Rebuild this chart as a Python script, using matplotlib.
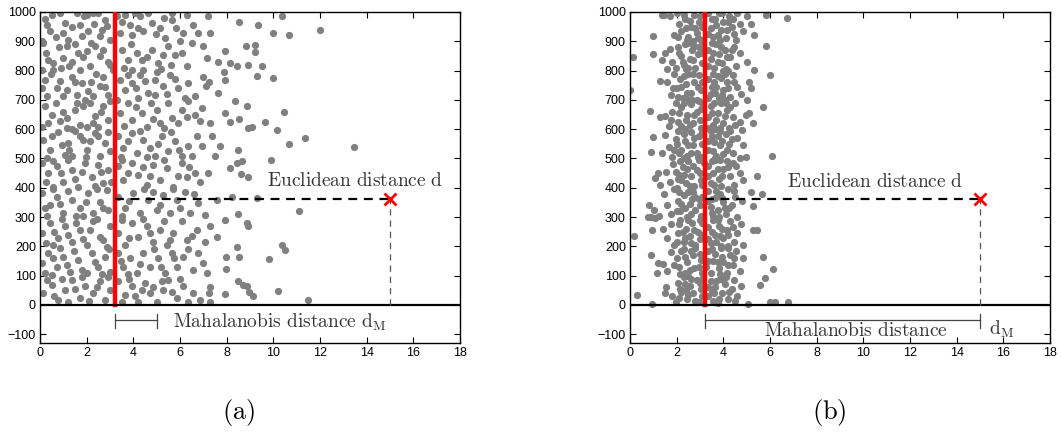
import numpy as np
import matplotlib.pyplot as plt

plt.rcParams['mathtext.fontset'] = 'cm'
plt.rcParams['font.family'] = ['Liberation Sans', 'DejaVu Sans']

# scatter points, panel (a)
pts_a = [
    # y 900-1000
    (0.5, 991), (0.86, 998), (1.57, 995), (2.0, 991), (2.26, 998), (2.5, 995), (2.79, 974), (0.29, 957),
    (0.43, 934), (1.07, 962), (1.71, 957), (2.07, 934), (2.57, 917), (2.86, 951), (3.64, 991), (4.07, 995),
    (4.29, 985), (4.64, 997), (4.79, 962), (5.14, 945), (5.64, 995), (5.64, 974), (6.11, 928), (6.57, 957),
    (7.21, 988), (6.79, 928), (7.29, 928), (3.43, 928), (3.86, 957), (4.43, 934), (5.36, 911), (0.07, 900),
    (1.21, 905), (1.79, 917), (8.53, 965), (9.36, 957), (10.36, 985), (10.69, 922), (10.0, 928), (12.0, 940),
    (0.2, 975), (0.7, 915), (1.35, 948), (1.9, 985), (2.3, 960), (2.65, 940), (3.0, 905), (3.5, 965),
    (3.95, 920), (4.2, 945), (4.95, 925), (5.3, 980), (5.85, 945), (6.3, 990), (1.0, 930), (3.3, 985),
    # y 800-900
    (0.14, 894), (0.36, 837), (0.57, 826), (1.0, 843), (1.36, 831), (1.64, 860), (1.14, 883), (2.0, 866),
    (2.14, 814), (2.57, 849), (2.36, 883), (2.93, 831), (0.07, 801), (0.57, 801), (1.71, 801), (3.5, 871),
    (3.79, 837), (4.14, 860), (3.93, 801), (4.43, 801), (4.79, 871), (5.07, 826), (5.5, 883), (5.79, 854),
    (6.0, 900), (6.29, 814), (7.0, 883), (7.14, 843), (7.93, 866), (7.64, 831), (8.14, 826), (8.43, 814),
    (8.83, 883), (9.21, 888), (9.21, 862), (8.93, 820), (9.5, 814), (6.5, 894), (5.29, 854), (3.14, 801),
    (0.25, 860), (0.8, 880), (1.25, 815), (1.5, 890), (1.85, 845), (2.2, 895), (2.7, 870), (3.0, 820),
    (3.6, 810), (3.9, 890), (4.35, 835), (4.6, 845), (5.2, 805), (5.6, 820), (6.1, 860), (0.9, 810),
    # y 700-800
    (0.21, 769), (0.71, 740), (1.0, 712), (1.36, 778), (1.79, 757), (2.07, 729), (1.93, 701), (2.29, 712),
    (2.57, 746), (2.71, 778), (2.93, 718), (0.29, 712), (1.57, 718), (3.43, 769), (3.64, 735), (3.93, 757),
    (4.29, 786), (4.64, 723), (4.93, 769), (5.29, 746), (5.57, 786), (5.93, 740), (6.36, 757), (6.64, 712),
    (7.0, 778), (7.24, 761), (7.1, 746), (7.64, 723), (7.9, 794), (7.93, 769), (8.36, 695), (9.29, 780),
    (10.0, 774), (4.93, 718), (4.21, 706),
    (0.1, 740), (0.45, 790), (0.85, 765), (1.15, 735), (1.5, 760), (2.4, 790), (2.8, 745), (3.3, 700),
    (3.75, 785), (4.1, 740), (4.5, 765), (5.0, 795), (5.45, 720), (5.8, 770), (6.2, 705), (2.2, 760),
    # y 600-700
    (0.21, 678), (0.5, 649), (0.86, 627), (1.14, 638), (1.5, 666), (1.71, 615), (2.14, 689), (2.36, 644),
    (2.5, 609), (2.71, 678), (2.93, 632), (0.07, 609), (1.14, 604), (2.0, 609), (3.43, 655), (3.79, 689),
    (3.93, 632), (4.36, 655), (4.57, 609), (5.0, 666), (5.14, 621), (5.5, 689), (5.64, 638), (6.07, 666),
    (6.36, 695), (6.64, 649), (6.86, 627), (7.29, 621), (6.93, 672), (7.93, 655), (8.14, 626), (8.53, 634),
    (8.89, 680), (8.93, 604), (9.1, 606), (9.64, 626), (10.47, 657), (10.14, 598),
    (0.35, 620), (0.7, 690), (1.0, 660), (1.35, 600), (1.85, 680), (2.25, 620), (2.6, 660), (3.0, 695),
    (3.6, 610), (4.1, 675), (4.75, 690), (4.85, 635), (5.3, 605), (5.9, 620), (6.3, 640), (1.6, 690),
    # y 500-600
    (0.14, 564), (0.43, 530), (0.79, 592), (1.21, 552), (1.36, 507), (1.71, 575), (2.0, 530), (2.36, 587),
    (2.57, 507), (2.79, 552), (3.0, 524), (0.29, 501), (1.07, 513), (1.86, 564), (3.36, 575), (3.57, 535),
    (3.93, 587), (4.14, 518), (4.43, 564), (4.71, 535), (4.93, 507), (5.21, 575), (5.5, 524), (5.79, 558),
    (6.07, 507), (6.36, 541), (6.71, 575), (6.93, 541), (7.36, 575), (7.71, 541), (7.5, 507), (8.47, 530),
    (8.43, 486), (8.64, 490), (9.89, 495), (10.69, 549), (11.36, 570), (13.47, 539),
    (0.5, 575), (0.95, 545), (1.5, 595), (1.95, 505), (2.15, 560), (2.5, 575), (2.9, 590), (3.45, 505),
    (3.75, 560), (4.3, 595), (4.6, 505), (5.05, 550), (5.6, 590), (5.95, 530), (6.5, 510), (1.25, 530),
    # y 400-500
    (0.07, 484), (0.36, 450), (0.71, 473), (1.0, 421), (1.36, 461), (1.64, 404), (1.93, 484), (2.21, 438),
    (2.5, 478), (2.71, 416), (2.93, 461), (0.57, 404), (3.36, 473), (3.57, 427), (3.93, 484), (4.21, 444),
    (4.57, 410), (4.86, 478), (5.14, 427), (5.43, 467), (5.71, 404), (6.07, 484), (6.29, 438), (6.64, 450),
    (6.86, 421), (7.21, 450), (8.61, 448), (8.93, 436), (8.14, 467),
    (0.25, 420), (0.55, 490), (0.9, 450), (1.2, 495), (1.5, 430), (1.8, 455), (2.35, 405), (2.6, 455),
    (3.05, 420), (3.5, 495), (3.75, 450), (4.4, 470), (4.7, 440), (5.3, 495), (5.9, 440), (6.4, 470),
    # y 300-400
    (0.07, 382), (0.43, 342), (0.71, 370), (1.0, 313), (1.36, 359), (1.71, 330), (2.07, 382), (2.29, 313),
    (2.57, 353), (2.86, 393), (2.93, 325), (0.29, 302), (1.86, 302), (3.36, 370), (3.64, 330), (4.0, 382),
    (4.29, 313), (4.64, 359), (5.0, 325), (5.29, 376), (5.57, 313), (5.86, 359), (6.21, 387), (6.43, 313),
    (6.79, 347), (7.07, 307), (7.57, 359), (8.21, 370), (9.29, 364), (8.47, 311), (11.1, 322),
    (0.2, 330), (0.55, 395), (0.85, 345), (1.2, 390), (1.55, 305), (1.95, 350), (2.45, 395), (2.7, 330),
    (3.5, 305), (3.8, 355), (4.45, 395), (4.85, 385), (5.15, 340), (5.7, 395), (6.0, 330), (6.6, 380),
    # y 200-300
    (0.07, 245), (0.43, 279), (0.79, 228), (1.07, 268), (1.36, 216), (1.71, 256), (2.0, 205), (2.29, 285),
    (2.57, 233), (2.86, 199), (3.0, 268), (0.57, 205), (3.36, 245), (3.64, 205), (3.93, 279), (4.21, 233),
    (4.57, 268), (4.86, 216), (5.14, 256), (5.43, 205), (5.71, 245), (6.07, 285), (6.29, 222), (6.71, 256),
    (7.07, 216), (7.29, 268), (7.93, 290), (8.86, 279), (8.9, 271), (7.57, 231), (8.43, 199), (10.36, 205),
    (10.5, 186),
    (0.25, 210), (0.6, 250), (0.95, 295), (1.2, 240), (1.55, 280), (1.85, 225), (2.15, 255), (2.45, 295),
    (2.7, 220), (3.5, 290), (3.8, 230), (4.4, 295), (4.7, 245), (5.3, 285), (5.55, 220), (6.5, 235),
    # y 100-200
    (0.07, 142), (0.36, 177), (0.71, 131), (1.0, 165), (1.29, 114), (1.64, 154), (2.0, 108), (2.21, 177),
    (2.5, 131), (2.79, 165), (3.0, 114), (0.5, 103), (3.36, 177), (3.57, 131), (3.86, 159), (4.14, 108),
    (4.43, 177), (4.71, 131), (5.07, 159), (5.36, 108), (5.64, 177), (5.86, 131), (6.14, 165), (6.57, 120),
    (7.0, 142), (7.14, 108), (7.96, 165), (8.53, 162), (9.81, 156), (7.96, 122), (6.79, 177),
    (0.2, 110), (0.55, 160), (0.85, 195), (1.15, 135), (1.45, 185), (1.8, 120), (2.35, 145), (2.65, 105),
    (2.95, 190), (3.45, 150), (3.75, 105), (4.3, 140), (4.9, 190), (5.2, 130), (5.75, 160), (6.35, 190),
    # y 0-100
    (0.14, 40), (0.5, 68), (0.79, 17), (1.07, 51), (1.36, 85), (1.71, 23), (1.93, 63), (2.29, 40),
    (2.57, 80), (2.79, 17), (3.0, 51), (3.36, 80), (3.64, 34), (3.93, 63), (4.21, 11), (4.5, 74),
    (4.71, 40), (5.0, 11), (5.29, 51), (5.5, 85), (5.86, 23), (6.14, 63), (6.36, 11), (6.57, 40),
    (6.86, 17), (7.29, 60), (7.26, 40), (7.29, 11), (7.93, 38), (8.5, 80), (8.69, 68), (8.86, 65),
    (8.96, 43), (9.14, 32), (10.19, 49), (11.5, 16), (5.21, 80),
    (0.3, 85), (0.6, 30), (0.95, 90), (1.2, 10), (1.5, 55), (1.8, 95), (2.1, 15), (2.45, 60),
    (2.9, 95), (3.5, 10), (3.8, 90), (4.05, 30), (4.35, 50), (4.85, 60), (5.65, 45), (6.0, 90),
]

# scatter points, panel (b)
pts_b = [
    # y 900-1000
    (1.45, 990), (1.7, 985), (2.0, 995), (2.1, 960), (2.2, 935), (2.35, 975), (2.5, 915), (2.6, 950),
    (2.75, 990), (2.85, 930), (2.95, 965), (3.05, 905), (3.35, 995), (3.45, 945), (3.55, 915), (3.65, 975),
    (3.8, 995), (3.9, 940), (4.0, 965), (4.1, 910), (4.25, 985), (4.35, 950), (4.45, 925), (4.6, 995),
    (4.7, 960), (4.85, 935), (5.0, 985), (5.2, 960), (5.3, 920), (2.45, 905), (3.75, 920), (4.55, 905),
    (1.9, 920), (2.7, 900), (3.0, 985),
    (2.05, 915), (2.3, 990), (2.55, 970), (2.8, 945), (3.35, 925), (3.5, 975), (3.7, 955), (3.95, 995),
    (4.15, 940), (4.4, 975), (2.4, 945), (3.1, 950), (3.85, 905), (2.9, 910), (4.2, 965),
    # y 800-900
    (1.5, 860), (1.7, 875), (1.8, 830), (1.95, 810), (2.05, 880), (2.2, 850), (2.3, 820), (2.45, 895),
    (2.55, 840), (2.65, 870), (2.8, 810), (2.9, 855), (3.05, 885), (3.1, 825), (3.35, 870), (3.45, 840),
    (3.6, 810), (3.7, 890), (3.8, 855), (3.95, 825), (4.05, 870), (4.2, 800), (4.3, 845), (4.45, 880),
    (4.55, 815), (4.7, 860), (5.0, 830), (1.6, 805), (2.4, 805), (3.5, 895), (4.1, 805), (2.75, 885),
    (2.1, 860), (2.35, 890), (2.5, 810), (2.7, 835), (2.95, 880), (3.35, 815), (3.55, 860), (3.75, 830),
    (3.9, 880), (4.15, 845), (4.35, 870), (2.25, 830), (3.1, 860), (4.0, 800), (2.6, 895),
    # y 700-800
    (1.6, 760), (1.75, 715), (1.9, 790), (2.0, 740), (2.15, 770), (2.25, 705), (2.4, 755), (2.5, 790),
    (2.6, 725), (2.75, 760), (2.85, 700), (2.95, 785), (3.05, 735), (3.35, 770), (3.45, 720), (3.55, 790),
    (3.7, 745), (3.8, 705), (3.9, 775), (4.0, 735), (4.15, 760), (4.3, 710), (4.4, 785), (4.6, 745),
    (4.75, 720), (5.1, 760), (5.2, 740), (1.85, 740), (2.55, 700), (3.6, 760), (4.05, 700), (2.3, 780),
    (2.05, 710), (2.2, 745), (2.45, 725), (2.7, 790), (2.9, 745), (3.35, 705), (3.5, 745), (3.75, 780),
    (3.95, 715), (4.2, 740), (4.45, 760), (2.35, 705), (3.1, 760), (3.65, 725), (4.05, 790),
    # y 600-700
    (1.3, 640), (1.5, 645), (1.65, 610), (1.8, 660), (1.95, 690), (2.05, 625), (2.2, 675), (2.35, 600),
    (2.45, 650), (2.6, 685), (2.7, 620), (2.85, 660), (2.95, 695), (3.05, 605), (3.35, 640), (3.45, 680),
    (3.55, 615), (3.65, 600), (3.75, 655), (3.9, 690), (4.0, 620), (4.15, 665), (4.25, 605), (4.4, 640),
    (4.5, 690), (4.7, 625), (4.95, 650), (2.4, 630), (3.6, 690), (1.75, 630), (3.05, 670), (4.1, 690),
    (2.1, 655), (2.3, 690), (2.55, 615), (2.75, 650), (3.0, 630), (3.35, 605), (3.5, 655), (3.7, 630),
    (3.85, 605), (4.05, 645), (4.3, 675), (2.2, 610), (3.1, 690), (2.65, 700), (4.5, 615),
    # y 500-600
    (1.35, 520), (1.5, 580), (1.65, 540), (1.8, 505), (1.95, 565), (2.05, 595), (2.2, 530), (2.35, 560),
    (2.45, 510), (2.6, 590), (2.7, 545), (2.85, 520), (2.95, 575), (3.05, 505), (3.35, 560), (3.45, 595),
    (3.55, 525), (3.65, 500), (3.75, 575), (3.85, 545), (4.0, 515), (4.1, 585), (4.25, 550), (4.4, 520),
    (4.6, 570), (4.7, 500), (4.85, 545), (2.3, 500), (3.1, 550), (1.9, 530), (3.6, 555), (4.3, 595),
    (2.1, 520), (2.3, 585), (2.5, 545), (2.75, 570), (2.9, 505), (3.35, 530), (3.5, 575), (3.7, 510),
    (3.95, 560), (4.15, 530), (4.35, 565), (2.6, 520), (3.1, 590), (3.85, 595), (2.0, 550),
    # y 400-500
    (1.3, 410), (1.55, 455), (1.7, 420), (1.85, 480), (2.0, 400), (2.1, 445), (2.25, 470), (2.4, 415),
    (2.5, 490), (2.6, 440), (2.75, 405), (2.85, 460), (2.95, 495), (3.05, 425), (3.35, 475), (3.45, 415),
    (3.55, 450), (3.65, 495), (3.8, 430), (3.9, 405), (4.0, 465), (4.15, 490), (4.3, 440), (4.45, 410),
    (4.55, 475), (4.7, 450), (4.85, 425), (2.2, 425), (3.6, 410), (1.95, 455), (3.15, 485),
    (2.15, 490), (2.3, 445), (2.55, 405), (2.7, 475), (3.0, 450), (3.35, 440), (3.5, 490), (3.75, 465),
    (3.95, 440), (4.2, 470), (4.4, 485), (2.45, 465), (3.1, 410), (3.85, 495), (2.05, 430),
    # y 300-400
    (1.25, 305), (1.45, 380), (1.6, 340), (1.75, 310), (1.9, 395), (2.05, 355), (2.15, 320), (2.3, 375),
    (2.45, 300), (2.55, 345), (2.7, 385), (2.8, 325), (2.95, 360), (3.05, 305), (3.35, 390), (3.45, 335),
    (3.55, 305), (3.65, 365), (3.75, 325), (3.85, 380), (4.0, 350), (4.1, 310), (4.2, 395), (4.35, 340),
    (4.5, 370), (4.6, 300), (4.8, 355), (2.2, 345), (3.5, 360), (2.65, 360), (4.05, 330),
    (2.1, 385), (2.35, 330), (2.6, 310), (2.8, 370), (3.0, 340), (3.35, 355), (3.5, 315), (3.7, 390),
    (3.95, 365), (4.25, 330), (4.45, 390), (2.5, 385), (3.1, 370), (3.8, 300), (2.0, 320),
    # y 200-300
    (1.4, 260), (1.6, 230), (1.75, 275), (1.9, 205), (2.05, 245), (2.15, 290), (2.3, 215), (2.4, 260),
    (2.55, 235), (2.65, 280), (2.8, 205), (2.9, 250), (3.0, 225), (3.35, 265), (3.45, 210), (3.55, 290),
    (3.65, 240), (3.8, 270), (3.9, 200), (4.0, 230), (4.15, 255), (4.3, 285), (4.45, 215), (4.6, 245),
    (4.75, 275), (4.85, 205), (2.25, 250), (3.1, 280), (3.7, 215), (4.2, 200),
    (2.1, 275), (2.35, 230), (2.5, 290), (2.75, 255), (3.0, 290), (3.35, 225), (3.5, 250), (3.75, 290),
    (3.95, 260), (4.2, 240), (4.4, 265), (2.6, 210), (3.1, 240), (3.85, 235), (2.0, 215),
    # y 100-200
    (1.4, 140), (1.6, 115), (1.75, 180), (1.9, 135), (2.0, 160), (2.15, 105), (2.3, 190), (2.45, 145),
    (2.55, 120), (2.7, 170), (2.8, 195), (2.95, 130), (3.05, 155), (3.35, 185), (3.45, 110), (3.55, 150),
    (3.65, 175), (3.8, 125), (3.9, 195), (4.0, 145), (4.15, 110), (4.3, 170), (4.4, 135), (4.55, 185),
    (4.7, 115), (4.85, 160), (2.35, 110), (3.25, 130), (4.2, 195),
    (2.1, 130), (2.35, 165), (2.6, 185), (2.75, 125), (3.0, 175), (3.35, 150), (3.5, 190), (3.75, 145),
    (3.95, 165), (4.2, 135), (4.45, 160), (2.5, 100), (3.1, 110), (3.85, 105), (2.2, 185),
    # y 0-100
    (1.55, 60), (1.8, 30), (1.95, 10), (2.05, 75), (2.2, 45), (2.3, 95), (2.45, 20), (2.55, 65),
    (2.7, 40), (2.85, 85), (2.95, 10), (3.05, 55), (3.35, 30), (3.45, 80), (3.55, 15), (3.65, 60),
    (3.75, 5), (3.85, 90), (3.95, 40), (4.05, 70), (4.2, 20), (4.35, 55), (4.45, 85), (4.6, 30),
    (4.75, 65), (2.4, 50), (3.1, 90), (3.6, 40), (4.1, 95),
    (2.1, 25), (2.35, 70), (2.6, 90), (2.8, 15), (3.0, 75), (3.35, 60), (3.5, 45), (3.8, 20),
    (4.0, 85), (4.25, 45), (4.5, 15), (2.5, 35), (3.1, 30), (3.7, 80), (2.15, 55),
    # outliers
    (0.0, 735), (0.14, 846), (0.17, 236), (0.29, 34), (0.93, 3), (0.89, 171), (0.93, 256), (0.86, 663),
    (0.9, 521), (1.0, 574), (1.0, 858), (1.0, 917), (0.8, 340), (0.75, 300), (0.9, 300), (1.04, 325),
    (1.07, 435), (1.21, 450), (1.07, 296), (1.29, 763), (1.21, 142), (1.14, 108), (1.5, 40), (1.36, 991),
    (1.36, 837), (6.07, 507), (6.0, 786), (5.83, 883), (6.74, 980), (5.83, 991), (5.33, 801), (5.71, 675),
    (5.64, 379), (5.43, 441), (5.25, 256), (5.45, 256), (5.71, 162), (6.14, 122), (5.79, 93), (5.57, 68),
    (6.0, 9), (6.2, 11), (6.79, 9), (5.07, 3), (5.29, 336), (5.17, 387), (5.11, 655), (5.26, 620),
    (5.0, 700), (4.79, 598), (4.96, 504),
]

center_x = 3.2
query = (15, 360)
maha_end = [5.0, 15.0]

fig = plt.figure(figsize=(10.61, 4.33), dpi=100)
ax_a = fig.add_axes([40 / 1061, 90 / 433, 420 / 1061, 331 / 433])
ax_b = fig.add_axes([630 / 1061, 90 / 433, 420 / 1061, 331 / 433])

for i, (ax, pts) in enumerate([(ax_a, pts_a), (ax_b, pts_b)]):
    px, py = np.array(pts).T
    ax.scatter(px, py, s=27, c='#808080', linewidths=0, zorder=2)
    ax.plot([center_x, center_x], [0, 1000], color='#ff0000', lw=3.2, zorder=3)
    ax.axhline(0, color='black', lw=1.6, zorder=4)
    ax.plot([center_x, query[0]], [query[1], query[1]], color='black', lw=1.6,
            dashes=(4, 3), zorder=4)
    ax.plot([query[0], query[0]], [0, query[1]], color='#555555', lw=0.9,
            dashes=(5, 4), zorder=4)
    ax.plot(query[0], query[1], marker='x', color='#ff0000', ms=9, mew=2, zorder=5)

    # Mahalanobis bracket
    ax.plot([center_x, maha_end[i]], [-52, -52], color='#444444', lw=0.9)
    for xb in (center_x, maha_end[i]):
        ax.plot([xb, xb], [-32, -80], color='#444444', lw=0.9)

    ax.set_xlim(0, 18)
    ax.set_ylim(-130, 1000)
    ax.set_xticks(np.arange(0, 19, 2))
    ax.set_yticks(np.arange(-100, 1001, 100))
    ax.tick_params(direction='in', top=True, right=True, labelsize=9, length=4, pad=3)
    for sp in ax.spines.values():
        sp.set_linewidth(1.0)

ax_a.text(13.5, 424, r'$\mathrm{Euclidean\ distance\ d}$', ha='center', va='center',
          fontsize=14, color='#333333')
ax_a.text(5.7, -60, r'$\mathrm{Mahalanobis\ distance\ d_M}$', ha='left', va='center',
          fontsize=14, color='#333333')
ax_b.text(10.5, 418, r'$\mathrm{Euclidean\ distance\ d}$', ha='center', va='center',
          fontsize=14, color='#333333')
ax_b.text(9.7, -90, r'$\mathrm{Mahalanobis\ distance}$', ha='center', va='center',
          fontsize=14, color='#333333')
ax_b.text(15.4, -82, r'$\mathrm{d_M}$', ha='left', va='center', fontsize=14, color='#333333')

# panel captions
fig.text(239 / 1061, 1 - 412 / 433, r'$\mathrm{(a)}$', ha='center', va='center', fontsize=19)
fig.text(829 / 1061, 1 - 412 / 433, r'$\mathrm{(b)}$', ha='center', va='center', fontsize=19)

fig.savefig('out.png', dpi=100)
